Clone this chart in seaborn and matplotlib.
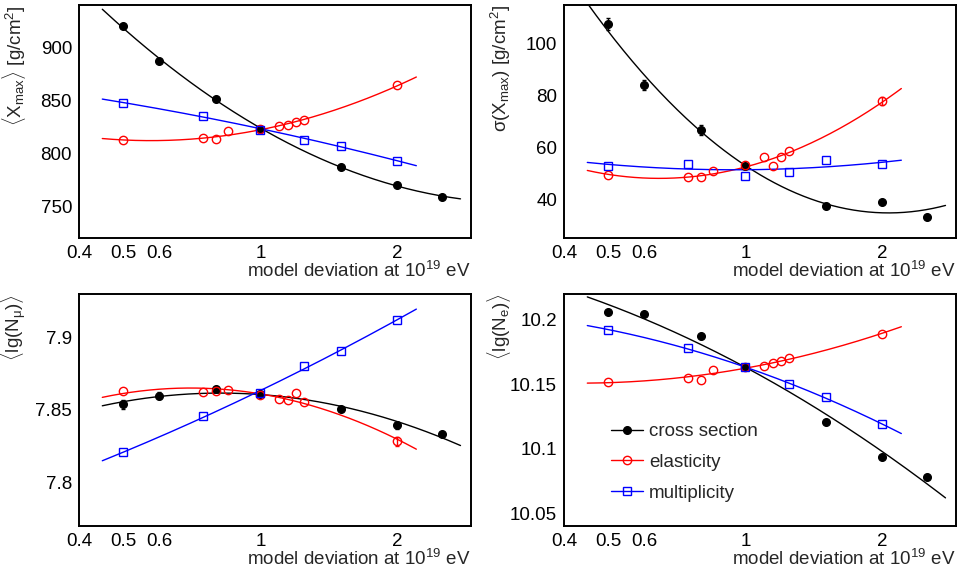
import numpy as np
import pandas as pd
import matplotlib
matplotlib.use('agg')
import matplotlib.pyplot as plt
import seaborn as sns
from matplotlib.lines import Line2D
from matplotlib.ticker import (FixedLocator, FixedFormatter, MultipleLocator,
                               NullFormatter, FuncFormatter)

# model deviation factors (x values)
x_cross = [0.5, 0.6, 0.8, 1.0, 1.5, 2.0, 2.5]
x_elast = [0.5, 0.75, 0.8, 0.85, 1.0, 1.1, 1.15, 1.2, 1.25, 2.0]
x_mult = [0.5, 0.75, 1.0, 1.25, 1.5, 2.0]

# <Xmax> [g/cm2]
xmax_cross = [919.8, 886.8, 851.6, 823.0, 787.2, 769.8, 759.0]
xmax_elast = [812.3, 814.2, 813.6, 820.8, 823.0, 825.5, 826.4, 829.9, 831.8, 864.2]
xmax_mult = [847.5, 835.6, 822.4, 812.9, 807.3, 792.8]

# sigma(Xmax) [g/cm2]  (0 = error bar hidden by the marker)
sig_cross = [107.7, 84.0, 66.7, 52.9, 37.2, 39.0, 33.3]
sig_cross_err = [2.4, 2.0, 1.8, 0, 0, 0, 0]
sig_elast = [49.4, 48.5, 48.5, 50.9, 53.2, 56.3, 52.7, 56.1, 58.7, 77.8]
sig_elast_err = [0, 0, 0, 0, 0, 0, 0, 0, 0, 1.6]
sig_mult = [53.0, 53.7, 49.1, 50.5, 55.0, 53.6]

# <lg(N_mu)>
nmu_cross = [7.854, 7.860, 7.8644, 7.8607, 7.851, 7.8395, 7.8333]
nmu_cross_err = [0.003, 0.0025, 0, 0, 0, 0.0025, 0]
nmu_elast = [7.863, 7.8625, 7.863, 7.864, 7.8602, 7.8577, 7.8568, 7.8614, 7.8552, 7.8283]
nmu_elast_err = [0, 0, 0, 0, 0, 0, 0, 0, 0, 0.003]
nmu_mult = [7.8207, 7.846, 7.8614, 7.8802, 7.8906, 7.9124]

# <lg(N_e)>
ne_cross = [10.206, 10.2047, 10.1875, 10.1631, 10.1208, 10.0938, 10.078]
ne_elast = [10.152, 10.1546, 10.1533, 10.1613, 10.1637, 10.1642, 10.1665, 10.1683, 10.1707, 10.1891]
ne_mult = [10.1922, 10.1779, 10.1631, 10.1499, 10.1398, 10.119]

labels = ['cross section', 'elasticity', 'multiplicity']
colors = ['black', '#ff0000', '#0000ff']

sns.set_theme(style='white')
plt.rcParams['font.family'] = ['Liberation Sans', 'DejaVu Sans']
plt.rcParams['mathtext.fontset'] = 'custom'
plt.rcParams['mathtext.rm'] = 'Liberation Sans'
plt.rcParams['mathtext.it'] = 'Liberation Sans:italic'
plt.rcParams['mathtext.sf'] = 'Liberation Sans'

W, H = 957, 572
fig = plt.figure(figsize=(W / 100, H / 100), dpi=100)


def px_axes(x0, y0, x1, y1):
    return fig.add_axes([x0 / W, 1 - y1 / H, (x1 - x0) / W, (y1 - y0) / H])


axes = [px_axes(79, 5, 471, 238), px_axes(564, 5, 956, 238),
        px_axes(79, 294, 471, 526), px_axes(564, 294, 956, 526)]

panels = [
    dict(ys=[xmax_cross, xmax_elast, xmax_mult], errs=[None, None, None],
         ylim=(720, 940), major=50, minor=10,
         ylabel=r'$\langle\mathrm{X}_{\mathrm{max}}\rangle$ [g/cm$^{2}$]'),
    dict(ys=[sig_cross, sig_elast, sig_mult], errs=[sig_cross_err, sig_elast_err, None],
         ylim=(25, 115), major=20, minor=5,
         ylabel='σ(X$_{\\mathrm{max}}$) [g/cm$^{2}$]'),
    dict(ys=[nmu_cross, nmu_elast, nmu_mult], errs=[nmu_cross_err, nmu_elast_err, None],
         ylim=(7.77, 7.93), major=0.05, minor=0.01,
         ylabel=r'$\langle\mathrm{lg(N}_{\mathrm{μ}})\rangle$'),
    dict(ys=[ne_cross, ne_elast, ne_mult], errs=[None, None, None],
         ylim=(10.04, 10.22), major=0.05, minor=0.01,
         ylabel=r'$\langle\mathrm{lg(N}_{\mathrm{e}})\rangle$'),
]

xs = [x_cross, x_elast, x_mult]
markers = [dict(marker='o', ms=5.5, mfc='black', mec='black'),
           dict(marker='o', ms=6, mfc='none', mec=colors[1], mew=1.0),
           dict(marker='s', ms=6, mfc='none', mec=colors[2], mew=1.0)]

for ax, p in zip(axes, panels):
    for i in range(3):
        x = np.array(xs[i])
        y = np.array(p['ys'][i])
        # quadratic fit in lg(x), drawn over the data range
        coef = np.polyfit(np.log10(x), y, 2)
        xf = np.logspace(np.log10(x.min() * 0.9), np.log10(x.max() * 1.1), 200)
        fit = pd.DataFrame({'x': xf, 'y': np.polyval(coef, np.log10(xf))})
        sns.lineplot(data=fit, x='x', y='y', ax=ax, color=colors[i], lw=1.0,
                     estimator=None, sort=False, zorder=2)
        if p['errs'][i] is not None:
            e = np.array(p['errs'][i])
            m = e > 0
            ax.errorbar(x[m], y[m], yerr=e[m], fmt='none', ecolor=colors[i],
                        elinewidth=1.0, capsize=1.5, zorder=3)
        ax.plot(x, y, ls='none', zorder=4, **markers[i])

    ax.set_xscale('log')
    ax.set_xlim(0.4, 2.9)
    ax.set_ylim(*p['ylim'])
    ax.xaxis.set_major_locator(FixedLocator([0.4, 0.5, 0.6, 1, 2]))
    ax.xaxis.set_major_formatter(FixedFormatter(['0.4', '0.5', '0.6', '1', '2']))
    ax.xaxis.set_minor_locator(FixedLocator([0.7, 0.8, 0.9]))
    ax.xaxis.set_minor_formatter(NullFormatter())
    ax.yaxis.set_major_locator(MultipleLocator(p['major']))
    ax.yaxis.set_minor_locator(MultipleLocator(p['minor']))
    ax.yaxis.set_major_formatter(FuncFormatter(lambda v, pos: '%g' % round(v, 4)))
    ax.tick_params(axis='both', which='both', direction='in', colors='black',
                   labelsize=13.5, width=1.0)
    ax.tick_params(axis='y', which='major', length=8, pad=5)
    ax.tick_params(axis='y', which='minor', length=4.2)
    ax.tick_params(axis='x', which='major', length=3.5, pad=5)
    ax.tick_params(axis='x', which='minor', length=2.5)
    for s in ax.spines.values():
        s.set_linewidth(1.4)
        s.set_color('black')
    ax.set_xlabel(r'model deviation at 10$^{19}$ eV', fontsize=13.5, loc='right')
    ax.xaxis.set_label_coords(1.0, -0.1)
    ax.set_ylabel(p['ylabel'], fontsize=13.5, loc='top')
    ax.yaxis.set_label_coords(-0.13, 1.0)

handles = [Line2D([], [], color=colors[i], lw=1.0, **markers[i]) for i in range(3)]
axes[3].legend(handles, labels, loc='upper left', bbox_to_anchor=(0.1, 0.475),
               frameon=False, fontsize=13.5, handlelength=1.7, handletextpad=0.35,
               labelspacing=0.72, borderaxespad=0)

fig.savefig('out.png', dpi=100)
